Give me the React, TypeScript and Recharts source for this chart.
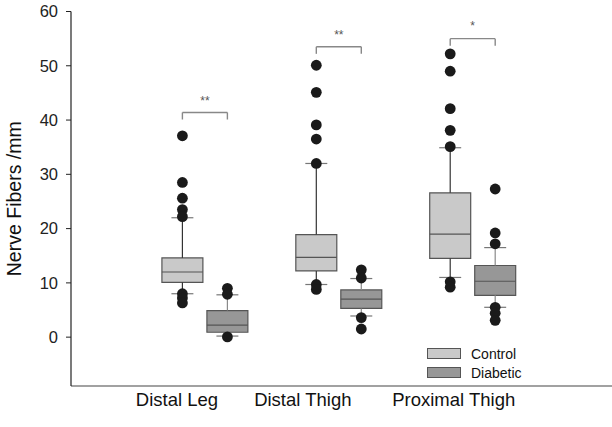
import React from 'react';
import {
  ComposedChart,
  XAxis,
  YAxis,
  Scatter,
  ReferenceArea,
  ReferenceLine,
  ReferenceDot,
} from 'recharts';

const categories = ['Distal Leg', 'Distal Thigh', 'Proximal Thigh'];
const seriesNames = ['Control', 'Diabetic'];

// [lower whisker, q1, median, q3, upper whisker]
const controlStats = [
  [8.0, 10.1, 12.0, 14.6, 22.0],
  [9.7, 12.2, 14.7, 18.9, 32.0],
  [11.0, 14.5, 19.0, 26.6, 34.9],
];
const diabeticStats = [
  [0.2, 0.9, 2.2, 4.9, 7.8],
  [3.9, 5.3, 7.0, 8.7, 10.8],
  [5.5, 7.7, 10.3, 13.2, 16.5],
];

const controlOutliers = [
  [37.1, 28.5, 25.6, 23.5, 22.2, 8.0, 7.2, 6.3],
  [50.1, 45.1, 39.1, 36.5, 32.0, 9.7, 8.8],
  [52.2, 49.0, 42.1, 38.1, 35.1, 10.2, 9.2],
];
const diabeticOutliers = [
  [9.0, 7.9, 0.05],
  [12.4, 10.9, 3.6, 1.5],
  [27.3, 19.2, 17.2, 5.5, 4.4, 3.1],
];

const sigLabels = ['**', '**', '*'];
const sigHeights = [41.4, 53.5, 55.0];
const sigTextHeights = [43.5, 55.7, 57.3];

const yTicks = [0, 10, 20, 30, 40, 50, 60];

// layout
const OFFSET = 0.168;
const HALF_BOX = 0.153;
const HALF_CAP = 0.082;
const labelShift = [-28, -36, -19];
const fills = ['#c9c9c9', '#979797'];
const whiskerColors = ['#333333', '#8a8a8a'];
const font = '"Liberation Sans", Arial, sans-serif';

const CategoryTick = (props: any) => {
  const { x, y, payload, index } = props;
  return (
    <text
      x={x + (labelShift[index] ?? 0)}
      y={y}
      dy="0.71em"
      textAnchor="middle"
      fontSize={18.5}
      fontFamily={font}
      fill="#111"
    >
      {categories[payload.value - 1]}
    </text>
  );
};

const Dot = (props: any) => {
  const { cx, cy } = props;
  return <circle cx={cx} cy={cy} r={5.4} fill="#1a1a1a" />;
};

function boxElements(stats: number[][], side: number, s: number) {
  const out: React.ReactNode[] = [];
  stats.forEach((st, i) => {
    const c = i + 1 + side * OFFSET;
    const [lo, q1, med, q3, hi] = st;
    const wc = whiskerColors[s];
    out.push(
      <ReferenceLine key={`wu${s}${i}`} segment={[{ x: c, y: q3 }, { x: c, y: hi }]} stroke={wc} strokeWidth={1.2} />,
      <ReferenceLine key={`wl${s}${i}`} segment={[{ x: c, y: lo }, { x: c, y: q1 }]} stroke={wc} strokeWidth={1.2} />,
      <ReferenceArea
        key={`b${s}${i}`}
        x1={c - HALF_BOX}
        x2={c + HALF_BOX}
        y1={q1}
        y2={q3}
        fill={fills[s]}
        fillOpacity={1}
        stroke="#555"
        strokeWidth={1.2}
      />,
      <ReferenceLine key={`m${s}${i}`} segment={[{ x: c - HALF_BOX, y: med }, { x: c + HALF_BOX, y: med }]} stroke="#555" strokeWidth={1.2} />,
      <ReferenceLine key={`cu${s}${i}`} segment={[{ x: c - HALF_CAP, y: hi }, { x: c + HALF_CAP, y: hi }]} stroke="#777" strokeWidth={1.2} />,
      <ReferenceLine key={`cl${s}${i}`} segment={[{ x: c - HALF_CAP, y: lo }, { x: c + HALF_CAP, y: lo }]} stroke="#777" strokeWidth={1.2} />
    );
  });
  return out;
}

function outlierData(groups: number[][], side: number) {
  return groups.flatMap((vals, i) => vals.map((v) => ({ x: i + 1 + side * OFFSET, y: v })));
}

function brackets() {
  const out: React.ReactNode[] = [];
  sigHeights.forEach((h, i) => {
    const a = i + 1 - OFFSET;
    const b = i + 1 + OFFSET;
    out.push(
      <ReferenceLine key={`bt${i}`} segment={[{ x: a, y: h }, { x: b, y: h }]} stroke="#888" strokeWidth={1.4} />,
      <ReferenceLine key={`ba${i}`} segment={[{ x: a, y: h - 1.3 }, { x: a, y: h }]} stroke="#888" strokeWidth={1.4} />,
      <ReferenceLine key={`bb${i}`} segment={[{ x: b, y: h - 1.3 }, { x: b, y: h }]} stroke="#888" strokeWidth={1.4} />,
      <ReferenceDot
        key={`bs${i}`}
        x={i + 1}
        y={sigTextHeights[i]}
        r={0}
        stroke="none"
        label={(p: any) => (
          <text
            x={p.viewBox.x + (p.viewBox.width || 0) / 2}
            y={p.viewBox.y + (p.viewBox.height || 0) / 2}
            dy="0.35em"
            textAnchor="middle"
            fontSize={12}
            fontFamily={font}
            fill="#555"
          >
            {sigLabels[i]}
          </text>
        )}
      />
    );
  });
  return out;
}

const Legend = () => (
  <div style={{ position: 'absolute', left: 427, top: 344, fontFamily: font, fontSize: 14, color: '#111' }}>
    {seriesNames.map((n, i) => (
      <div key={n} style={{ display: 'flex', alignItems: 'center', height: 19 }}>
        <div style={{ width: 32, height: 9, background: fills[i], border: '1px solid #555', marginRight: 10 }} />
        <span>{n}</span>
      </div>
    ))}
  </div>
);

export default function App() {
  return (
    <div style={{ position: 'absolute', left: 0, top: 0, width: 612, height: 427, overflow: 'hidden', background: '#fff' }}>
      <ComposedChart width={622} height={427} margin={{ top: 11.5, right: 0, bottom: 0, left: 0 }}>
        <XAxis
          type="number"
          dataKey="x"
          domain={[0, 4.115]}
          ticks={[1, 2, 3]}
          allowDataOverflow
          height={41}
          tickLine={false}
          tickSize={5}
          tickMargin={2}
          axisLine={{ stroke: '#444', strokeWidth: 1.2 }}
          tick={<CategoryTick />}
        />
        <YAxis
          type="number"
          dataKey="y"
          domain={[-9, 60]}
          ticks={yTicks}
          allowDataOverflow
          width={71}
          tickSize={5}
          tickMargin={8}
          axisLine={{ stroke: '#222', strokeWidth: 1.2 }}
          tickLine={{ stroke: '#222' }}
          tick={{ fontSize: 16.5, fontFamily: font, fill: '#222' }}
          label={(p: any) => {
            const cy = p.viewBox.y + p.viewBox.height / 2;
            return (
              <text
                x={14}
                y={cy}
                transform={`rotate(-90, 14, ${cy})`}
                textAnchor="middle"
                dominantBaseline="central"
                fontSize={19.5}
                fontFamily={font}
                fill="#111"
              >
                Nerve Fibers /mm
              </text>
            );
          }}
        />
        {boxElements(controlStats, -1, 0)}
        {boxElements(diabeticStats, 1, 1)}
        {brackets()}
        <Scatter name="Control outliers" data={outlierData(controlOutliers, -1)} shape={<Dot />} isAnimationActive={false} />
        <Scatter name="Diabetic outliers" data={outlierData(diabeticOutliers, 1)} shape={<Dot />} isAnimationActive={false} />
      </ComposedChart>
      <Legend />
    </div>
  );
}
